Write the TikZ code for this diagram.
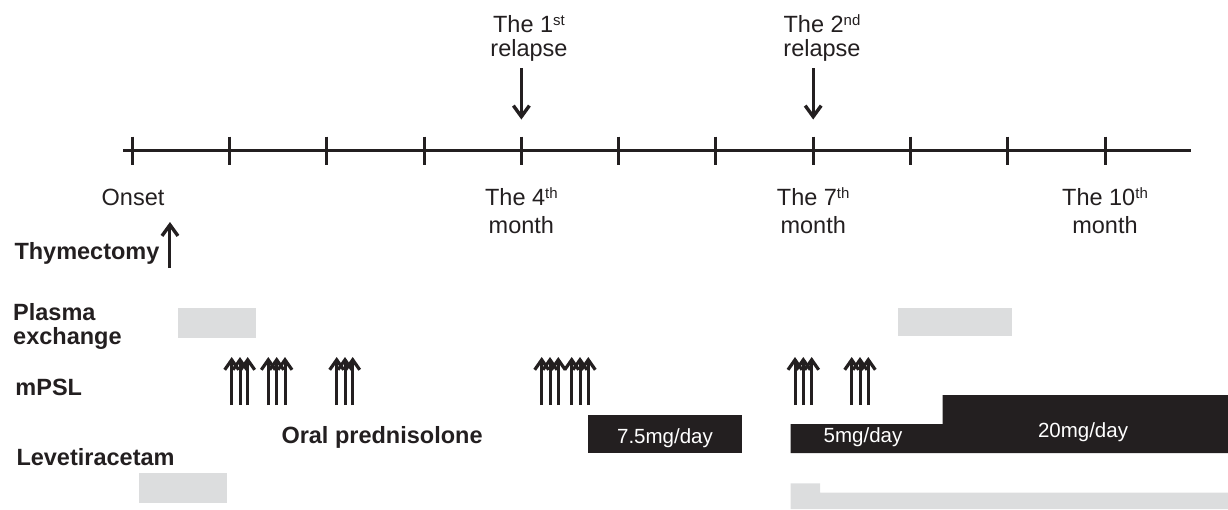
\documentclass[tikz,border=0pt]{standalone}
\usepackage{fontspec}
\setmainfont{Liberation Sans}
\usetikzlibrary{arrows.meta}
\usetikzlibrary{positioning}
\definecolor{ink}{HTML}{231F20}
\definecolor{pale}{HTML}{DCDDDE}
\def\ord#1{\raisebox{7pt}{\fontsize{15}{15}\selectfont #1}}

\begin{document}
\begin{tikzpicture}[x=1pt,y=-1pt,>={Straight Barb[length=11pt,width=16pt,line width=3.4pt]},
		line width=3pt,color=ink,inner sep=0pt]
		\tikzstyle{lbl}=[text=ink,align=center,anchor=base,font=\fontsize{23.5}{24}\selectfont]
		\tikzstyle{head}=[text=ink,align=left,anchor=base west,font=\fontsize{23.5}{24}\selectfont\bfseries]
		\tikzstyle{dose}=[text=white,anchor=base,font=\fontsize{20.5}{24}\selectfont]
		\tikzstyle{pulse}=[->,>={Straight Barb[length=10pt,width=14pt,line width=3.2pt]}]

		\useasboundingbox (0,0) rectangle (1228,509);

		% time axis
		\draw (123,150.5) -- (1191,150.5);
		\foreach \i in {0,...,10}{
			\coordinate (m\i) at (132.3+97.27*\i,150.5);
			\draw ([yshift=14pt]m\i) -- ([yshift=-14pt]m\i);
		}

		\node[lbl] (onset) at (133,205) {Onset};
		\node[lbl] (mo4) at (m4 |- 0,233) {The 4\ord{th}\\[4pt]month};
		\node[lbl] (mo7) at (m7 |- mo4.base) {The 7\ord{th}\\[4pt]month};
		\node[lbl] (mo10) at (m10 |- mo4.base) {The 10\ord{th}\\[4pt]month};

		\node[lbl] (rel1) at (529,56) {The 1\ord{st}\\relapse};
		\node[lbl] (rel2) at (822,56) {The 2\ord{nd}\\relapse};
		\draw[->,shorten <=6pt] (rel1.south -| m4) -- ([yshift=31pt]m4);
		\draw[->,shorten <=6pt] (rel2.south -| m7) -- ([yshift=31pt]m7);

		% treatments
		\node[head] (thy) at (13,259) {Thymectomy};
		\draw[->] ([xshift=9pt,yshift=-9pt]thy.base east) -- ([xshift=9pt,yshift=37pt]thy.base east);

		\node[head] (pex) at (11.7,344) {Plasma\\exchange};
		\node[head] (mpsl) at (14,395) {mPSL};
		\node[head] (oral) at (280,443) {Oral prednisolone};
		\node[head] (lev) at (15,465) {Levetiracetam};

		\fill[pale] (178,308) rectangle (256,337.5);
		\fill[pale] (898,308) rectangle (1012,336);
		\fill[pale] (139,473) rectangle (227,502.7);
		\fill[pale] (790.7,483.3) -- (820,483.3) -- (820,492.7) -- (1228,492.7) -- (1228,509) -- (790.7,509) -- cycle;

		\foreach \x in {231.7,240,247.7,268.3,276.7,285,336.7,345,352.7,541.7,550,558.3,571.7,580,588.3,795,803.3,811.7,851.7,860,868.3}
			\draw[pulse] (\x,405) -- (\x,357);

		\fill (588,415) rectangle (742,453);
		\fill (790.7,424) -- (942.7,424) -- (942.7,395) -- (1228,395) -- (1228,453) -- (790.7,453) -- cycle;
		\node[dose] (d75) at (665,443) {7.5mg/day};
		\node[dose] (d5) at (863,442) {5mg/day};
		\node[dose] (d20) at (1083,437) {20mg/day};
\end{tikzpicture}
\end{document}
